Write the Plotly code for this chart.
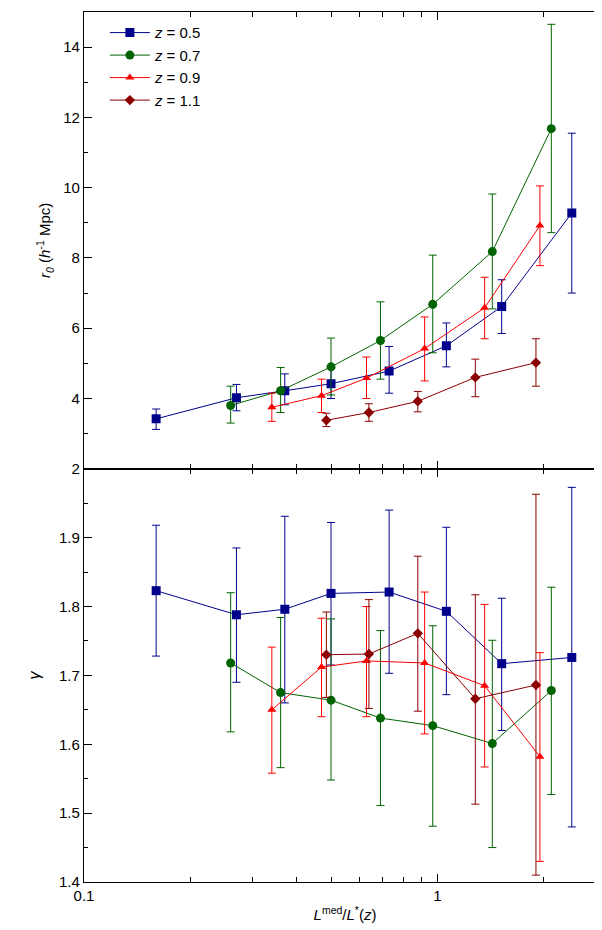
import plotly.graph_objects as go
from plotly.subplots import make_subplots

labels = ["<i>z</i> = 0.5", "<i>z</i> = 0.7", "<i>z</i> = 0.9", "<i>z</i> = 1.1"]
colors = ["#00008b", "#006400", "#ff0000", "#8b0000"]
symbols = ["square", "circle", "triangle-up", "diamond"]

lum = [
    [0.16, 0.27, 0.37, 0.50, 0.73, 1.06, 1.52, 2.40],
    [0.26, 0.36, 0.50, 0.69, 0.97, 1.43, 2.10],
    [0.34, 0.47, 0.63, 0.92, 1.36, 1.95],
    [0.485, 0.64, 0.88, 1.28, 1.90],
]
r0 = [
    [3.42, 4.02, 4.22, 4.42, 4.78, 5.50, 6.62, 9.28],
    [3.80, 4.22, 4.90, 5.65, 6.68, 8.18, 11.68],
    [3.75, 4.08, 4.58, 5.42, 6.58, 8.92],
    [3.38, 3.60, 3.92, 4.60, 5.02],
]
r0_lo = [
    [3.12, 3.65, 3.82, 4.00, 4.15, 4.90, 5.85, 7.00],
    [3.30, 3.60, 4.10, 4.55, 5.30, 6.55, 8.72],
    [3.35, 3.60, 4.00, 4.50, 5.70, 7.78],
    [3.20, 3.35, 3.62, 4.05, 4.35],
]
r0_hi = [
    [3.70, 4.40, 4.70, 4.90, 5.48, 6.15, 7.38, 11.55],
    [4.35, 4.88, 5.72, 6.75, 8.08, 9.82, 14.65],
    [4.15, 4.55, 5.18, 6.32, 7.45, 10.05],
    [3.58, 3.85, 4.20, 5.12, 5.70],
]
gam = [
    [1.823, 1.788, 1.796, 1.819, 1.821, 1.793, 1.717, 1.726],
    [1.718, 1.675, 1.664, 1.638, 1.627, 1.601, 1.678],
    [1.650, 1.712, 1.721, 1.718, 1.685, 1.582],
    [1.730, 1.731, 1.761, 1.666, 1.686],
]
gam_lo = [
    [1.728, 1.690, 1.660, 1.715, 1.703, 1.672, 1.620, 1.480],
    [1.618, 1.566, 1.548, 1.511, 1.481, 1.450, 1.527],
    [1.558, 1.640, 1.640, 1.615, 1.567, 1.430],
    [1.668, 1.652, 1.648, 1.513, 1.410],
]
gam_hi = [
    [1.918, 1.885, 1.931, 1.922, 1.940, 1.915, 1.812, 1.973],
    [1.820, 1.784, 1.782, 1.765, 1.772, 1.751, 1.828],
    [1.741, 1.783, 1.800, 1.821, 1.803, 1.733],
    [1.792, 1.810, 1.873, 1.817, 1.963],
]

fig = make_subplots(rows=2, cols=1, shared_xaxes=True, vertical_spacing=0,
                    row_heights=[0.525, 0.475])

for i in range(4):
    for row, y, lo, hi in [(1, r0[i], r0_lo[i], r0_hi[i]), (2, gam[i], gam_lo[i], gam_hi[i])]:
        fig.add_trace(go.Scatter(
            x=lum[i], y=y, mode="lines+markers", name=labels[i],
            showlegend=(row == 1), legendgroup=labels[i],
            line=dict(color=colors[i], width=1),
            marker=dict(symbol=symbols[i], size=9 if i < 2 else 8, color=colors[i]),
            error_y=dict(type="data", symmetric=False,
                         array=[h - v for h, v in zip(hi, y)],
                         arrayminus=[v - l for v, l in zip(y, lo)],
                         color=colors[i], thickness=1, width=4),
        ), row=row, col=1)

ax = dict(showline=True, linecolor="black", linewidth=1.2, mirror="ticks",
          ticks="inside", ticklen=8, tickcolor="black", showgrid=False, zeroline=False,
          automargin=False, tickfont=dict(size=15, color="black"))
fig.update_xaxes(type="log", range=[-1, 0.477], tickvals=[0.1, 1],
                 ticktext=["0.1", "1"], minor=dict(ticks="inside", ticklen=5, tickcolor="black",
                 dtick="D1", showgrid=False), **ax)
fig.update_xaxes(title=dict(text="<i>L</i><sup>med</sup>/<i>L</i><sup>*</sup>(<i>z</i>)",
                            font=dict(size=15, color="black"), standoff=6), row=2, col=1)
fig.update_yaxes(**ax)
fig.update_yaxes(range=[2, 15], tickvals=[2, 4, 6, 8, 10, 12, 14],
                 minor=dict(ticks="inside", ticklen=4, tickcolor="black", dtick=1),
                 title=dict(text="<i>r<sub>0</sub></i> (<i>h</i><sup>-1</sup> Mpc)",
                            font=dict(size=15, color="black"), standoff=8), row=1, col=1)
fig.update_yaxes(range=[1.4, 2.0], tickvals=[1.4, 1.5, 1.6, 1.7, 1.8, 1.9, 2.0],
                 ticktext=["1.4", "1.5", "1.6", "1.7", "1.8", "1.9", ""],
                 minor=dict(ticks="inside", ticklen=4, tickcolor="black", dtick=0.05),
                 title=dict(text="<i>γ</i>", font=dict(size=16, color="black"), standoff=14),
                 row=2, col=1)

fig.update_layout(
    width=602, height=930, template="plotly_white",
    plot_bgcolor="white", paper_bgcolor="white",
    font=dict(family="Liberation Sans, Arial, sans-serif", color="black", size=15),
    margin=dict(l=76, r=4, t=4, b=56),
    legend=dict(x=0.04, y=0.995, xanchor="left", yanchor="top", bgcolor="rgba(0,0,0,0)",
                font=dict(size=15), tracegroupgap=0, itemwidth=40),
)

fig.write_html("out.html")
